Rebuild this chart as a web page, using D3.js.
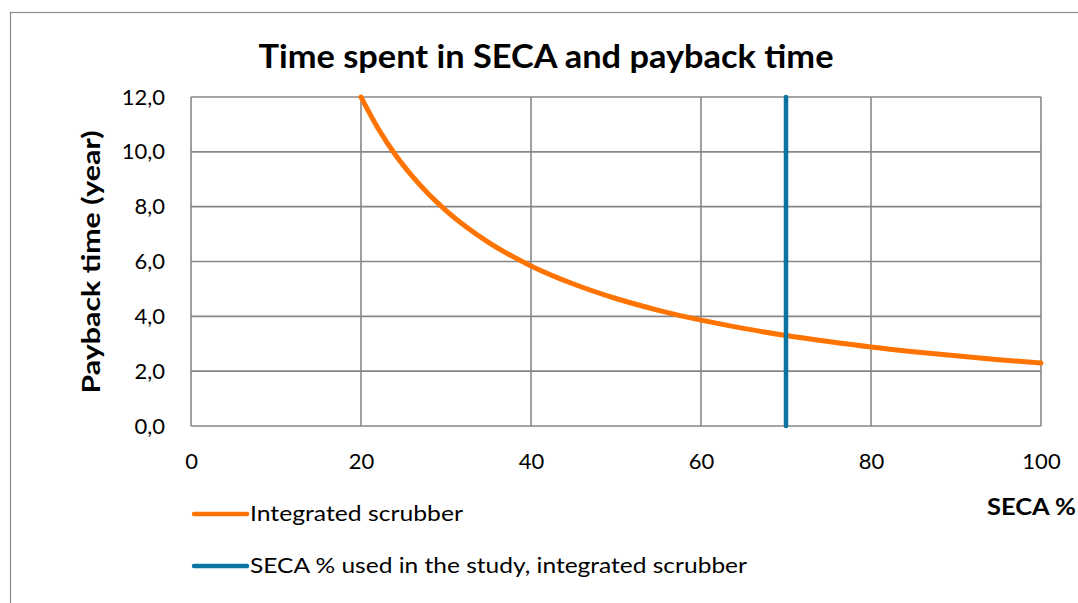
<!DOCTYPE html>
<html>
<head>
<meta charset="utf-8">
<script src="https://cdn.jsdelivr.net/npm/d3@7"></script>
<style>
  html, body { margin: 0; padding: 0; background: #fff; }
  svg { display: block; font-family: Lato, "Open Sans", sans-serif; }
</style>
</head>
<body>
<svg id="chart" width="1078" height="603"></svg>
<script>
// SECA share (%) and payback time (years) for the integrated scrubber
const secaPercent = [20, 22, 24, 26, 28, 30, 35, 40, 45, 50, 55, 60, 65, 70, 75, 80, 85, 90, 95, 100];
const paybackYears = [12.0, 10.86, 9.91, 9.12, 8.44, 7.86, 6.70, 5.84, 5.18, 4.65, 4.22, 3.86, 3.56, 3.30, 3.08, 2.88, 2.71, 2.56, 2.42, 2.30];

// SECA % used in the study (vertical reference line)
const studySeca = [70, 70];
const studyPayback = [0, 12];

const xTicks = [0, 20, 40, 60, 80, 100];
const yTicks = [0, 2, 4, 6, 8, 10, 12];

const seriesNames = ["Integrated scrubber", "SECA % used in the study, integrated scrubber"];
const seriesColors = ["#FF7300", "#0B74A0"];

const svg = d3.select("#chart");
const W = 1078, H = 603;
const plot = { left: 191, right: 1041, top: 97, bottom: 426 };

const x = d3.scaleLinear().domain([0, 100]).range([plot.left, plot.right]);
const y = d3.scaleLinear().domain([0, 12]).range([plot.bottom, plot.top]);

const locale = d3.formatLocale({ decimal: ",", thousands: " ", grouping: [3], currency: ["", ""] });
const fmtY = locale.format(".1f");

// outer chart frame
svg.append("rect")
  .attr("x", 10.5).attr("y", 12.5)
  .attr("width", W).attr("height", H)
  .attr("fill", "none").attr("stroke", "#8c8c8c").attr("stroke-width", 1.2);

// title
svg.append("text")
  .attr("x", 546).attr("y", 68)
  .attr("text-anchor", "middle")
  .attr("font-size", 32).attr("font-weight", 700)
  .attr("textLength", 575).attr("lengthAdjust", "spacingAndGlyphs")
  .text("Time spent in SECA and payback time");

// grid
const grid = svg.append("g").attr("stroke", "#878787").attr("stroke-width", 1.6);
grid.selectAll("line.h").data(yTicks).join("line")
  .attr("x1", plot.left).attr("x2", plot.right)
  .attr("y1", d => y(d)).attr("y2", d => y(d));
grid.selectAll("line.v").data(xTicks).join("line")
  .attr("y1", plot.top).attr("y2", plot.bottom)
  .attr("x1", d => x(d)).attr("x2", d => x(d));

// axes (labels only)
const yAxis = svg.append("g")
  .attr("transform", `translate(${plot.left},0)`)
  .call(d3.axisLeft(y).tickValues(yTicks).tickFormat(fmtY).tickSize(0).tickPadding(26));
const xAxis = svg.append("g")
  .attr("transform", `translate(0,${plot.bottom})`)
  .call(d3.axisBottom(x).tickValues(xTicks).tickFormat(d3.format("d")).tickSize(0).tickPadding(27));
[yAxis, xAxis].forEach(g => {
  g.select(".domain").remove();
  g.selectAll("text").attr("font-size", 22).attr("fill", "#000")
    .attr("font-family", "Lato, 'Open Sans', sans-serif");
});

// axis titles
svg.append("text")
  .attr("transform", "translate(100,262) rotate(-90)")
  .attr("text-anchor", "middle")
  .attr("font-size", 24).attr("font-weight", 700)
  .attr("textLength", 263).attr("lengthAdjust", "spacingAndGlyphs")
  .text("Payback time (year)");
svg.append("text")
  .attr("x", 1076).attr("y", 515)
  .attr("text-anchor", "end")
  .attr("font-size", 22).attr("font-weight", 700)
  .attr("textLength", 89).attr("lengthAdjust", "spacingAndGlyphs")
  .text("SECA %");

// payback curve
const curveData = secaPercent.map((s, i) => [s, paybackYears[i]]);
svg.append("path")
  .datum(curveData)
  .attr("fill", "none")
  .attr("stroke", seriesColors[0])
  .attr("stroke-width", 5)
  .attr("stroke-linecap", "round")
  .attr("d", d3.line().x(d => x(d[0])).y(d => y(d[1])).curve(d3.curveMonotoneX));

// study reference line
const refData = studySeca.map((s, i) => [s, studyPayback[i]]);
svg.append("path")
  .datum(refData)
  .attr("fill", "none")
  .attr("stroke", seriesColors[1])
  .attr("stroke-width", 4.5)
  .attr("stroke-linecap", "round")
  .attr("d", d3.line().x(d => x(d[0])).y(d => y(d[1])));

// legend
const legendY = [514, 566];
const legendWidths = [213, 497];
const legend = svg.append("g");
seriesNames.forEach((name, i) => {
  legend.append("line")
    .attr("x1", 194).attr("x2", 247)
    .attr("y1", legendY[i]).attr("y2", legendY[i])
    .attr("stroke", seriesColors[i]).attr("stroke-width", 4.5)
    .attr("stroke-linecap", "round");
  legend.append("text")
    .attr("x", 250).attr("y", legendY[i] + 7)
    .attr("font-size", 21)
    .attr("textLength", legendWidths[i]).attr("lengthAdjust", "spacingAndGlyphs")
    .text(name);
});
</script>
</body>
</html>
